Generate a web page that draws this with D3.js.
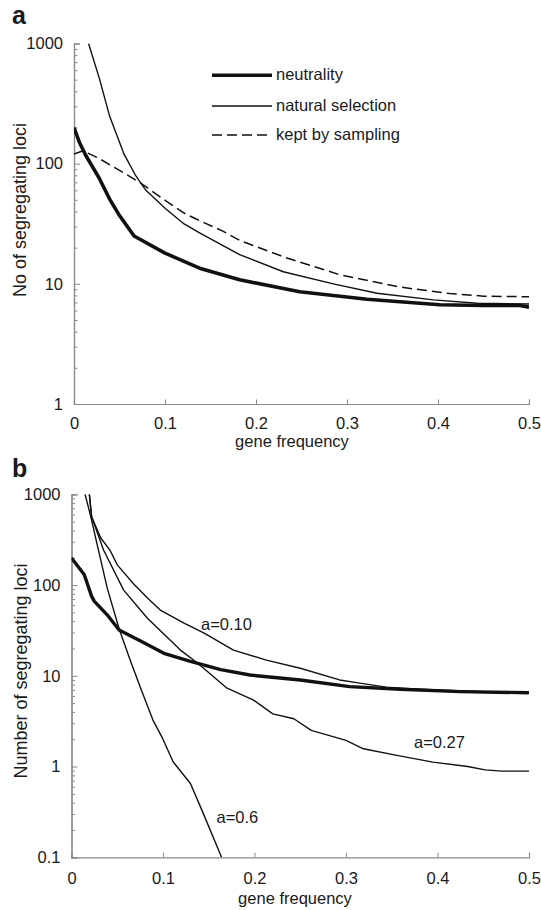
<!DOCTYPE html>
<html>
<head>
<meta charset="utf-8">
<script src="https://cdn.jsdelivr.net/npm/d3@7"></script>
<style>
  html, body { margin: 0; padding: 0; background: #fff; }
  svg { display: block; }
  text { font-family: "Liberation Sans", Arial, sans-serif; fill: #1a1a1a; }
</style>
</head>
<body>
<svg id="chart" width="541" height="910"></svg>
<script>
// ---------------- DATA ----------------
const freqTicks = [0, 0.1, 0.2, 0.3, 0.4, 0.5];
const yTicksA = [1, 10, 100, 1000];
const yTicksB = [0.1, 1, 10, 100, 1000];

// Panel a: [gene frequency, number of segregating loci]
const neutralityA = [[0,200],[0.006,150],[0.013,117],[0.028,75],[0.039,51],[0.05,37],[0.066,25],[0.1,18],[0.138,13.5],[0.182,10.8],[0.248,8.6],[0.322,7.45],[0.402,6.7],[0.45,6.6],[0.49,6.6],[0.5,6.4]];
const selectionA = [[0.016,1000],[0.028,508],[0.039,251],[0.055,120],[0.068,79],[0.079,60],[0.101,42],[0.121,31.5],[0.138,26.5],[0.182,17.5],[0.23,12.6],[0.285,10],[0.333,8.35],[0.395,7.36],[0.443,6.9],[0.5,6.8]];
const samplingA = [[0,120],[0.01,128],[0.028,110],[0.05,88],[0.072,70],[0.101,49],[0.123,38],[0.144,32],[0.163,27.6],[0.182,23],[0.234,16.4],[0.292,11.9],[0.358,9.4],[0.413,8.3],[0.45,7.9],[0.5,7.8]];

// Panel b
const neutralityB = [[0,199],[0.014,130],[0.022,75],[0.025,66],[0.039,47],[0.052,32],[0.076,24],[0.101,17.7],[0.13,14.4],[0.163,11.7],[0.195,10.2],[0.25,9],[0.304,7.6],[0.359,7.1],[0.425,6.7],[0.5,6.5]];
const a010 = [[0.0195,1000],[0.022,566],[0.032,330],[0.042,243],[0.05,167],[0.0675,104],[0.083,72],[0.097,53],[0.123,38],[0.145,29.5],[0.177,19.2],[0.213,14.9],[0.25,12.1],[0.293,9],[0.315,8.3],[0.344,7.5],[0.37,7.2],[0.4,7.0],[0.45,6.7],[0.5,6.6]];
const a027 = [[0.0195,1000],[0.022,566],[0.035,243],[0.057,88],[0.083,43],[0.119,19.2],[0.137,14],[0.17,7.3],[0.199,5.4],[0.22,3.8],[0.243,3.36],[0.262,2.5],[0.3,1.94],[0.319,1.57],[0.357,1.32],[0.395,1.12],[0.433,1.0],[0.452,0.92],[0.47,0.89],[0.5,0.89]];
const a060 = [[0.0148,1000],[0.021,573],[0.028,280],[0.039,93],[0.052,33],[0.064,15],[0.0756,7.3],[0.089,3.25],[0.099,2.1],[0.111,1.13],[0.13,0.65],[0.144,0.305],[0.164,0.1]];

const legendLabels = ["neutrality", "natural selection", "kept by sampling"];
const curveLabelsB = ["a=0.10", "a=0.27", "a=0.6"];

// ---------------- DRAWING ----------------
const svg = d3.select("#chart");
const AXIS_COLOR = "#8a8a8a";
const FS = "16.5px";

function minorTicks(lo, hi) {
  const out = [];
  for (let d = lo; d < hi; d *= 10) for (let k = 2; k <= 9; k++) out.push(d * k);
  return out;
}

function panel(cfg) {
  const x = d3.scaleLinear().domain([0, 0.5]).range([cfg.x0, cfg.x1]);
  const y = d3.scaleLog().domain(cfg.yDomain).range([cfg.yBottom, cfg.yTop]);
  const g = svg.append("g");

  const clipId = "clip-" + cfg.id;
  svg.append("defs").append("clipPath").attr("id", clipId)
    .append("rect").attr("x", cfg.x0).attr("y", cfg.yTop)
    .attr("width", cfg.x1 - cfg.x0).attr("height", cfg.yBottom - cfg.yTop);

  // minor y ticks
  const gMinor = g.append("g").attr("transform", `translate(${cfg.x0},0)`)
    .call(d3.axisLeft(y).tickValues(minorTicks(cfg.yDomain[0], cfg.yDomain[1])).tickSize(-3.5).tickFormat(""));
  // major y axis
  const gy = g.append("g").attr("transform", `translate(${cfg.x0},0)`)
    .call(d3.axisLeft(y).tickValues(cfg.yTicks).tickSize(-6).tickPadding(11)
      .tickFormat(d => String(d)));
  // x axis
  const gx = g.append("g").attr("transform", `translate(0,${cfg.yBottom})`)
    .call(d3.axisBottom(x).tickValues(freqTicks).tickSize(-4.5).tickPadding(cfg.xPad)
      .tickFormat(d => String(d)));

  [gMinor, gy, gx].forEach(a => {
    a.select(".domain").attr("stroke", AXIS_COLOR).attr("stroke-width", 1.2);
    a.selectAll(".tick line").attr("stroke", AXIS_COLOR).attr("stroke-width", 1);
    a.selectAll(".tick text").style("font-size", FS).style("font-family", '"Liberation Sans", Arial, sans-serif').attr("fill", "#1a1a1a");
  });

  // axis titles
  g.append("text").attr("x", cfg.xTitleX).attr("y", cfg.yBottom + cfg.xTitleDy)
    .attr("text-anchor", "middle").style("font-size", FS).text("gene frequency");
  g.append("text").attr("transform", `translate(${cfg.titleX},${cfg.titleY}) rotate(-90)`)
    .attr("text-anchor", "middle").style("font-size", "18px").text(cfg.yTitle);

  // panel letter
  g.append("text").attr("x", 12).attr("y", cfg.letterY)
    .style("font-size", "25px").style("font-weight", "bold").text(cfg.letter);

  const line = d3.line().x(d => x(d[0])).y(d => y(d[1]));
  const lines = g.append("g").attr("clip-path", `url(#${clipId})`);
  cfg.series.forEach(s => {
    lines.append("path").datum(s.data).attr("d", line)
      .attr("fill", "none").attr("stroke", "#111")
      .attr("stroke-width", s.w).attr("stroke-dasharray", s.dash || null)
      .attr("stroke-linejoin", "round");
  });
  return {x, y, g};
}

const A = panel({
  id: "a", x0: 74, x1: 529, yTop: 43.5, yBottom: 404, yDomain: [1, 1000], yTicks: yTicksA,
  xPad: 13, xTitleX: 292, xTitleDy: 43,
  yTitle: "No of segregating loci", titleX: 26, titleY: 210, letter: "a", letterY: 24,
  series: [
    {data: neutralityA, w: 3.6},
    {data: selectionA, w: 1.4},
    {data: samplingA, w: 1.5, dash: "10,5"}
  ]
});

// legend for panel a
const legendStyles = [{w: 3.6}, {w: 1.4}, {w: 1.5, dash: "10,5"}];
const legendY = [75.3, 106, 135];
legendLabels.forEach((lab, i) => {
  A.g.append("line").attr("x1", 212).attr("x2", 272).attr("y1", legendY[i]).attr("y2", legendY[i])
    .attr("stroke", "#111").attr("stroke-width", legendStyles[i].w)
    .attr("stroke-dasharray", legendStyles[i].dash || null);
  A.g.append("text").attr("x", 276).attr("y", legendY[i] + 5)
    .style("font-size", FS).text(lab);
});

const B = panel({
  id: "b", x0: 71.5, x1: 529, yTop: 494.3, yBottom: 857.3, yDomain: [0.1, 1000], yTicks: yTicksB,
  xPad: 15, xTitleX: 295, xTitleDy: 47,
  yTitle: "Number of segregating loci", titleX: 27, titleY: 671, letter: "b", letterY: 477,
  series: [
    {data: neutralityB, w: 3.4},
    {data: a010, w: 1.4},
    {data: a027, w: 1.4},
    {data: a060, w: 1.4}
  ]
});

// curve labels in panel b
const curveLabelPos = [[201, 630], [414, 748], [216.5, 823]];
curveLabelsB.forEach((lab, i) => {
  B.g.append("text").attr("x", curveLabelPos[i][0]).attr("y", curveLabelPos[i][1])
    .style("font-size", FS).text(lab);
});
</script>
</body>
</html>
